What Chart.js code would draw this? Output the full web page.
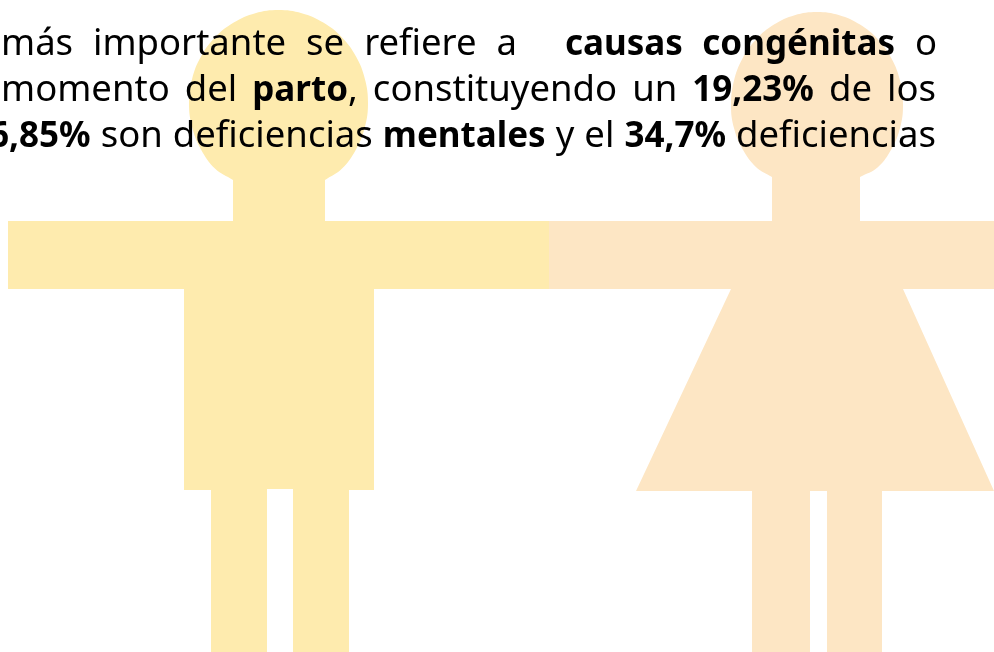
<!DOCTYPE html>
<html lang="es">
<head>
<meta charset="utf-8">
<title>Causas de deficiencia</title>
<script src="https://cdn.jsdelivr.net/npm/chart.js@4"></script>
<style>
  html, body { margin: 0; padding: 0; background: #fff; overflow: hidden; }
  #wrap { position: relative; width: 994px; height: 652px; overflow: hidden; }
  #chart { position: absolute; left: 0; top: 0; }
  .line {
    position: absolute;
    height: 46px;
    line-height: 46px;
    font-family: "Noto Sans", sans-serif;
    font-size: 36.5px;
    color: #000;
    white-space: normal;
    text-align: justify;
    text-align-last: justify;
  }
  .line b { font-size: 35px; }
</style>
</head>
<body>
<div id="wrap">
  <canvas id="chart" width="994" height="652"></canvas>
  <div class="line" style="left:1px;top:18px;width:936px">más importante se refiere a &nbsp;<b style="margin-left:8px">causas congénitas</b> o</div>
  <div class="line" style="left:1px;top:64px;width:935px">momento del <b>parto</b>, constituyendo un <b>19,23%</b> de los</div>
  <div class="line" style="left:-11px;top:110px;width:947px"><b>6,85%</b> son deficiencias <b>mentales</b> y el <b>34,7%</b> deficiencias</div>
</div>
<script>
// figure outlines
const manBodyX = [233, 233, 8, 8, 184, 184, 211, 211, 267, 267, 293, 293, 349, 349, 374, 374, 549, 549, 325, 325];
const manBodyY = [175, 221, 221, 289, 289, 490, 490, 652, 652, 489, 489, 652, 652, 490, 490, 289, 289, 221, 221, 175];
const manHeadX = [233, 215.2, 201, 192.1, 189, 192.1, 201, 215.2, 233.75, 255.3, 278.5, 301.7, 323.25, 341.8, 356, 364.9, 368, 364.9, 356, 341.8, 325];
const manHeadY = [180, 168.8, 149.5, 127.1, 103, 78.9, 56.5, 37.2, 22.5, 13.2, 10, 13.2, 22.5, 37.2, 56.5, 78.9, 103, 127.1, 149.5, 168.8, 180];

const womanBodyX = [772, 772, 549, 549, 731, 636, 752, 752, 810, 810, 827, 827, 882, 882, 994, 903, 994, 994, 860, 860];
const womanBodyY = [175, 221, 221, 289, 289, 491, 491, 652, 652, 491, 491, 652, 652, 491, 491, 289, 289, 221, 221, 175];
const womanHeadX = [772, 756.2, 742.5, 733.9, 731, 733.9, 742.5, 756.2, 774, 794.7, 817, 839.3, 860, 877.8, 891.5, 900.1, 903, 900.1, 891.5, 877.8, 860];
const womanHeadY = [177, 167.2, 149, 127.8, 105, 80.9, 58.5, 39.2, 24.5, 15.2, 12, 15.2, 24.5, 39.2, 58.5, 80.9, 105, 127.8, 149, 167.2, 177];

const manColor = "#feebae";
const womanColor = "#fde6c4";

function outline(xs, ys) {
  return xs.map((x, i) => ({ x: x, y: ys[i] }));
}

function shape(label, xs, ys, color, tension) {
  return {
    label: label,
    data: outline(xs, ys),
    showLine: true,
    fill: "shape",
    backgroundColor: color,
    borderColor: color,
    borderWidth: 0,
    pointRadius: 0,
    tension: tension,
  };
}

new Chart(document.getElementById("chart"), {
  type: "scatter",
  data: {
    datasets: [
      shape("Hombre", manBodyX, manBodyY, manColor, 0),
      shape("Hombre cabeza", manHeadX, manHeadY, manColor, 0.4),
      shape("Mujer", womanBodyX, womanBodyY, womanColor, 0),
      shape("Mujer cabeza", womanHeadX, womanHeadY, womanColor, 0.4),
    ],
  },
  options: {
    responsive: false,
    animation: false,
    events: [],
    plugins: { legend: { display: false }, tooltip: { enabled: false } },
    scales: {
      x: { type: "linear", min: 0, max: 994, display: false },
      y: { type: "linear", min: 0, max: 652, reverse: true, display: false },
    },
  },
});
</script>
</body>
</html>
